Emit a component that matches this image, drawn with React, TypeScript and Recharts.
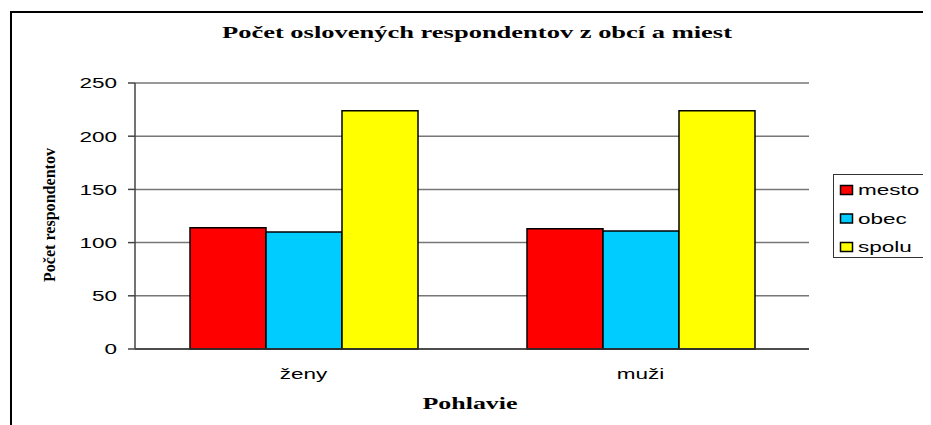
import React from 'react';
import { BarChart, Bar, XAxis, YAxis, CartesianGrid, Legend } from 'recharts';

const categories = ['ženy', 'muži'];
const mestoValues = [114, 113];
const obecValues = [110, 111];
const spoluValues = [224, 224];
const yTicks = [0, 50, 100, 150, 200, 250];
const boundaryTicks = [0, 1, 2];

const seriesNames = ['mesto', 'obec', 'spolu'];
const seriesColors = ['#FF0000', '#00CCFF', '#FFFF00'];

const data = categories.map((c, i) => ({
  name: c,
  pos: i + 0.5,
  mesto: mestoValues[i],
  obec: obecValues[i],
  spolu: spoluValues[i],
}));

const SANS = '"Liberation Sans", Arial, sans-serif';
const SERIF = '"Liberation Serif", "Times New Roman", serif';

const YTick = (props: any) => {
  const { x, y, payload } = props;
  return (
    <text
      transform={`translate(${x},${y}) scale(1.5,1)`}
      textAnchor="end"
      dy="0.36em"
      fontFamily={SANS}
      fontSize={15}
      fill="#000"
    >
      {payload.value}
    </text>
  );
};

const XTick = (props: any) => {
  const { x, y, payload } = props;
  return (
    <text
      transform={`translate(${x},${y + 28}) scale(1.5,1)`}
      textAnchor="middle"
      fontFamily={SANS}
      fontSize={15}
      fill="#000"
    >
      {payload.value}
    </text>
  );
};

const LegendContent = (props: any) => {
  const payload = props.payload || [];
  return (
    <svg width={97} height={84} style={{ display: 'block' }}>
      <rect x={0.5} y={0.5} width={96} height={83} fill="#fff" stroke="#333" strokeWidth={1} />
      {payload.map((p: any, i: number) => (
        <g key={p.value}>
          <rect x={7.5} y={11.5 + i * 28.5} width={12} height={9} fill={p.color} stroke="#000" strokeWidth={1.5} />
          <text
            transform={`translate(${25},${21 + i * 28.5}) scale(1.5,1)`}
            fontFamily={SANS}
            fontSize={15}
            fill="#000"
          >
            {p.value}
          </text>
        </g>
      ))}
    </svg>
  );
};

const YLabel = () => (
  <text
    transform="translate(47,207) rotate(-90)"
    textAnchor="middle"
    fontFamily={SERIF}
    fontWeight="bold"
    fontSize={16}
    fill="#000"
    textLength={134}
    lengthAdjust="spacingAndGlyphs"
  >
    Počet  respondentov
  </text>
);

const XLabel = () => (
  <text
    x={462}
    y={401}
    textAnchor="middle"
    fontFamily={SERIF}
    fontWeight="bold"
    fontSize={16}
    fill="#000"
    textLength={95}
    lengthAdjust="spacingAndGlyphs"
  >
    Pohlavie
  </text>
);

export default function App() {
  return (
    <div style={{ position: 'relative', width: 923, height: 417, overflow: 'hidden', background: '#fff' }}>
      <div
        style={{
          position: 'absolute',
          left: 2,
          top: 3,
          width: 1000,
          height: 500,
          borderLeft: '2px solid #000',
          borderTop: '2px solid #000',
        }}
      />
      <svg width={923} height={50} style={{ position: 'absolute', left: 0, top: 0 }}>
        <text
          x={469}
          y={30}
          textAnchor="middle"
          fontFamily={SERIF}
          fontWeight="bold"
          fontSize={16}
          fill="#000"
          textLength={510}
          lengthAdjust="spacingAndGlyphs"
        >
          Počet oslovených respondentov z obcí a miest
        </text>
      </svg>
      <div style={{ position: 'absolute', left: 0, top: 0 }}>
        <BarChart
          width={923}
          height={417}
          data={data}
          margin={{ top: 75, right: 25, bottom: 0, left: 0 }}
          barCategoryGap={55}
          barGap={0}
        >
          <CartesianGrid yAxisId="l" xAxisId="cat" vertical={false} stroke="#777" strokeWidth={1.5} />
          <XAxis
            xAxisId="edge"
            dataKey="pos"
            type="number"
            domain={[0, 2]}
            ticks={boundaryTicks}
            height={0}
            tick={false}
            tickSize={6}
            tickLine={{ stroke: '#444', strokeWidth: 1.5 }}
            axisLine={false}
          />
          <XAxis
            xAxisId="cat"
            dataKey="name"
            height={76}
            tickLine={false}
            tickSize={0}
            tick={<XTick />}
            axisLine={{ stroke: '#333', strokeWidth: 1.5 }}
            interval={0}
          />
          <YAxis
            yAxisId="l"
            width={127}
            domain={[0, 250]}
            ticks={yTicks}
            tickSize={7}
            tickMargin={11}
            tick={<YTick />}
            tickLine={{ stroke: '#444', strokeWidth: 1.5 }}
            axisLine={{ stroke: '#444', strokeWidth: 1.5 }}
          />
          <YAxis
            yAxisId="r"
            orientation="right"
            width={0}
            domain={[0, 250]}
            tick={false}
            tickLine={false}
            axisLine={{ stroke: '#999', strokeWidth: 2 }}
          />
          <Legend
            layout="vertical"
            align="right"
            verticalAlign="middle"
            content={<LegendContent />}
            wrapperStyle={{ position: 'absolute', left: 825, top: 166, width: 97, height: 84 }}
          />
          {seriesNames.map((s, i) => (
            <Bar
              key={s}
              dataKey={s}
              name={s}
              xAxisId="cat"
              yAxisId="l"
              fill={seriesColors[i]}
              stroke="#000"
              strokeWidth={1.5}
              isAnimationActive={false}
            />
          ))}
          <YLabel />
          <XLabel />
        </BarChart>
      </div>
    </div>
  );
}
